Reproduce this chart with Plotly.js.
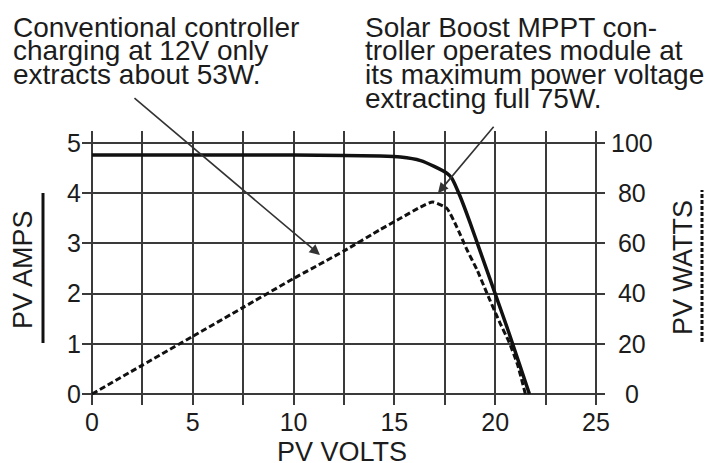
<!DOCTYPE html>
<html>
<head>
<meta charset="utf-8">
<script src="https://cdn.plot.ly/plotly-3.0.1.min.js"></script>
<style>html,body{margin:0;padding:0;background:#fff;}#chart{width:711px;height:463px;}</style>
</head>
<body>
<div id="chart"></div>
<script>
// ---- data ----
const ivVolts = [0, 2.5, 5, 7.5, 10, 12.5, 14.3, 15.3, 16.3, 17, 17.6, 17.85, 18.25, 18.75, 19.25, 20, 20.7, 21.2, 21.7];
const ivAmps  = [4.76, 4.76, 4.76, 4.76, 4.76, 4.75, 4.74, 4.72, 4.65, 4.53, 4.40, 4.30, 3.95, 3.42, 2.85, 2.0, 1.2, 0.6, 0];

const pwVolts = [0, 2.5, 5, 7.5, 10, 12.5, 14.3, 15.3, 16.3, 16.9, 17.6, 18.1, 18.6, 19.1, 19.6, 20.2, 20.7, 21.1, 21.5];
const pwWatts = [0, 11.5, 23, 34.5, 46, 57, 65.5, 70, 74.5, 76.5, 74, 66.5, 57.5, 49.5, 40, 29, 20.5, 12, 0];

const xTickVals = [0, 2.5, 5, 7.5, 10, 12.5, 15, 17.5, 20, 22.5, 25];
const xTickText = ['0', '', '5', '', '10', '', '15', '', '20', '', '25'];
const ampTicks = [0, 1, 2, 3, 4, 5];
const wattTicks = [0, 20, 40, 60, 80, 100];
const wattTickText = ['\u20070', '\u200820', '\u200840', '\u200860', '\u200880', '100'];

const leftNote = ['Conventional controller', 'charging at 12V only', 'extracts about 53W.'];
const rightNote = ['Solar Boost MPPT con-', 'troller operates module at', 'its maximum power voltage', 'extracting full 75W.'];

const xTitle = 'PV VOLTS';
const yTitle = 'PV AMPS';
const y2Title = 'PV WATTS';

// ---- layout helpers ----
const W = 711, H = 463;
const M = {l: 82, r: 106, t: 131, b: 58};
const pw = W - M.l - M.r, ph = H - M.t - M.b;
const px = v => (v - M.l) / pw;
const py = v => (H - M.b - v) / ph;

const FONT = 'Liberation Sans, Arial, Helvetica, sans-serif';
const TXT = '#1c1c1c';
const GRID = '#3a3a3a';

const traces = [
  {x: ivVolts, y: ivAmps, type: 'scatter', mode: 'lines', yaxis: 'y',
   line: {color: '#111', width: 3.5, shape: 'spline', smoothing: 0.5}, hoverinfo: 'skip'},
  {x: pwVolts, y: pwWatts, type: 'scatter', mode: 'lines', yaxis: 'y2',
   line: {color: '#111', width: 3, dash: '6px,3px', shape: 'spline', smoothing: 0.5}, hoverinfo: 'skip'}
];

const annotations = [];
const lineStep = 23.5;
leftNote.forEach((t, i) => annotations.push({
  text: t, xref: 'paper', yref: 'paper', x: px(11), y: py(27.5 + i * lineStep),
  xanchor: 'left', yanchor: 'middle', showarrow: false,
  font: {family: FONT, size: 28, color: TXT}
}));
rightNote.forEach((t, i) => annotations.push({
  text: t, xref: 'paper', yref: 'paper', x: px(363), y: py(27.5 + i * lineStep),
  xanchor: 'left', yanchor: 'middle', showarrow: false,
  font: {family: FONT, size: 28, color: TXT}
}));
// arrows
annotations.push({text: '', x: 11.31, y: 2.77, xref: 'x', yref: 'y', showarrow: true,
  ax: -187, ay: -158, arrowhead: 2, arrowsize: 1.3, arrowwidth: 1.6, arrowcolor: '#333', standoff: 0});
annotations.push({text: '', x: 17.16, y: 4.0, xref: 'x', yref: 'y', showarrow: true,
  ax: 57, ay: -68, arrowhead: 2, arrowsize: 1.3, arrowwidth: 1.6, arrowcolor: '#333', standoff: 0});
// axis titles
annotations.push({text: xTitle, xref: 'paper', yref: 'paper', x: px(342), y: py(451.5),
  xanchor: 'center', yanchor: 'middle', showarrow: false, font: {family: FONT, size: 27, color: TXT}});
annotations.push({text: yTitle, xref: 'paper', yref: 'paper', x: px(23), y: py(270), textangle: -90,
  xanchor: 'center', yanchor: 'middle', showarrow: false, font: {family: FONT, size: 27, color: TXT}});
annotations.push({text: y2Title, xref: 'paper', yref: 'paper', x: px(683), y: py(268), textangle: -90,
  xanchor: 'center', yanchor: 'middle', showarrow: false, font: {family: FONT, size: 27, color: TXT}});

const shapes = [
  {type: 'line', xref: 'paper', yref: 'paper', x0: px(43), x1: px(43), y0: py(343), y1: py(193),
   line: {color: '#111', width: 3}},
  {type: 'line', xref: 'paper', yref: 'paper', x0: px(702), x1: px(702), y0: py(342), y1: py(190),
   line: {color: '#111', width: 3, dash: '4px,2px'}}
];

const layout = {
  width: W, height: H, margin: M, showlegend: false,
  paper_bgcolor: '#fff', plot_bgcolor: '#fff',
  font: {family: FONT, color: TXT},
  xaxis: {range: [-0.496, 25.45], tickmode: 'array', tickvals: xTickVals, ticktext: xTickText,
    showgrid: true, gridcolor: GRID, gridwidth: 2, zeroline: false, showline: false, ticks: '',
    tickfont: {family: FONT, size: 25, color: TXT}, fixedrange: true},
  yaxis: {range: [-0.219, 5.239], tickmode: 'array', tickvals: ampTicks,
    showgrid: true, gridcolor: GRID, gridwidth: 2, zeroline: false, showline: false, ticks: '',
    tickfont: {family: FONT, size: 25, color: TXT}, fixedrange: true},
  yaxis2: {range: [-4.38, 104.78], overlaying: 'y', side: 'right', tickmode: 'array',
    tickvals: wattTicks, ticktext: wattTickText, showgrid: false, zeroline: false, showline: false,
    ticks: '', ticklabelstandoff: 5,
    tickfont: {family: FONT, size: 25, color: TXT}, fixedrange: true},
  annotations: annotations,
  shapes: shapes
};

Plotly.newPlot('chart', traces, layout, {staticPlot: true, displayModeBar: false});
</script>
</body>
</html>
